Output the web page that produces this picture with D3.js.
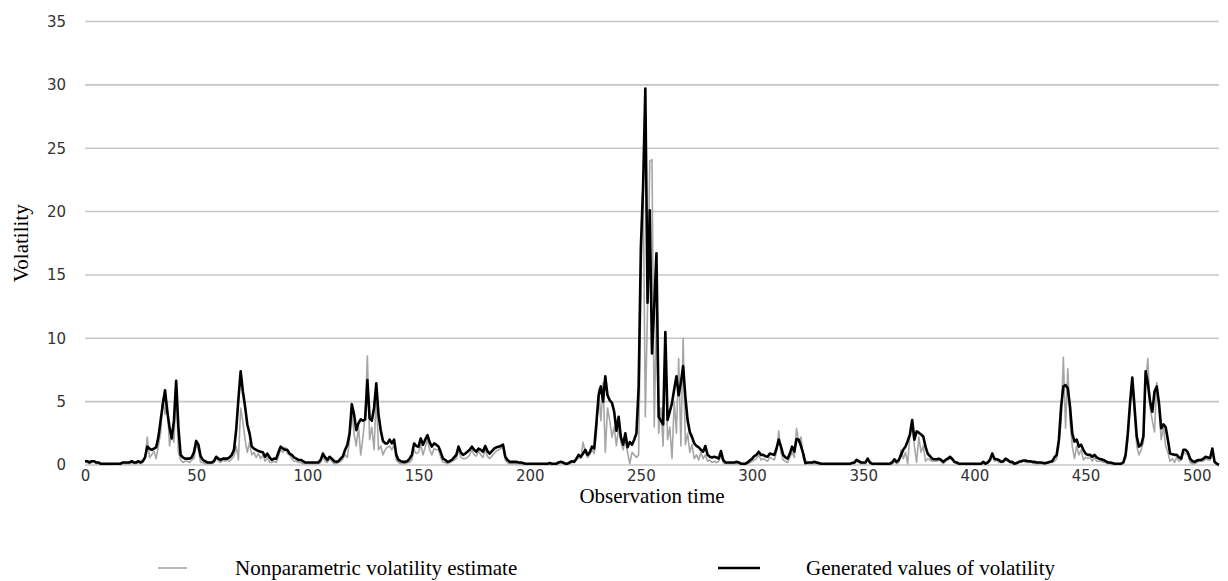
<!DOCTYPE html>
<html>
<head>
<meta charset="utf-8">
<script src="https://cdn.jsdelivr.net/npm/d3@7"></script>
<style>
  html, body { margin: 0; padding: 0; background: #fff; }
  svg { display: block; }
</style>
</head>
<body>
<script>
// values, one per observation (0 .. 510)
const generated = [
  0.3,0.3,0.2,0.3,0.3,0.2,0.2,0.1,0.1,0.1,
  0.1,0.1,0.1,0.1,0.1,0.1,0.1,0.2,0.2,0.2,0.2,
  0.3,0.2,0.2,0.3,0.2,0.3,0.6,1.45,1.3,1.2,
  1.3,1.4,2.2,3.5,4.8,5.9,4.2,3.0,2.1,3.5,
  6.65,3.0,0.8,0.6,0.5,0.5,0.5,0.6,1.0,1.9,
  1.6,0.7,0.4,0.3,0.2,0.2,0.2,0.3,0.65,0.5,
  0.4,0.5,0.5,0.5,0.6,0.8,1.2,2.8,5.2,7.4,
  5.8,4.6,3.2,2.5,1.45,1.3,1.2,1.1,1.05,1.0,
  0.65,0.9,0.6,0.4,0.5,0.5,1.0,1.45,1.3,1.2,
  1.2,0.9,0.8,0.6,0.5,0.4,0.4,0.3,0.2,0.2,0.2,
  0.2,0.2,0.2,0.2,0.4,0.9,0.6,0.4,0.65,0.5,
  0.3,0.25,0.3,0.5,0.7,1.2,1.6,2.5,4.8,4.0,
  2.75,3.3,3.6,3.5,3.6,6.7,3.7,3.5,4.5,6.45,
  4.0,2.75,1.9,1.7,1.7,2.0,1.7,2.0,0.8,0.4,
  0.3,0.25,0.25,0.3,0.5,0.8,1.7,1.5,1.45,2.1,
  1.6,2.0,2.35,1.8,1.45,1.7,1.6,1.45,1.0,0.5,
  0.4,0.25,0.3,0.4,0.6,0.8,1.45,1.0,0.8,0.9,
  1.05,1.2,1.45,1.2,1.05,1.3,1.2,1.05,1.5,1.1,
  0.9,1.1,1.3,1.4,1.45,1.5,1.6,0.65,0.4,0.25,
  0.25,0.25,0.25,0.2,0.2,0.15,0.1,0.1,0.1,0.1,0.1,
  0.1,0.1,0.1,0.1,0.1,0.1,0.15,0.1,0.1,0.1,
  0.2,0.25,0.2,0.1,0.1,0.2,0.3,0.25,0.5,0.8,
  0.65,0.9,1.2,0.8,1.0,1.45,1.3,3.3,5.5,6.2,
  5.0,7.0,5.5,5.1,4.9,4.2,2.7,3.8,2.2,1.6,
  2.5,1.4,1.8,1.6,2.0,2.5,6.2,17.2,22.0,29.7,
  12.8,20.1,8.8,12.5,16.7,3.8,3.5,3.2,10.5,3.55,
  4.2,4.9,6.0,7.0,5.5,6.5,7.8,5.4,3.55,2.6,
  2.2,1.7,1.5,1.4,1.2,1.05,1.5,0.8,0.65,0.6,
  0.65,0.6,0.5,1.1,0.4,0.2,0.2,0.2,0.2,0.2,
  0.25,0.2,0.1,0.1,0.1,0.2,0.35,0.5,0.7,0.8,
  1.05,0.8,0.8,0.7,0.65,0.9,0.85,0.8,1.3,2.0,
  1.45,0.8,0.6,0.5,0.9,1.45,1.05,2.05,2.0,1.5,
  0.9,0.15,0.2,0.2,0.2,0.25,0.2,0.15,0.1,0.1,
  0.1,0.1,0.1,0.1,0.1,0.1,0.1,0.1,0.1,0.1,0.1,
  0.1,0.15,0.2,0.4,0.3,0.2,0.2,0.2,0.5,0.2,
  0.1,0.1,0.1,0.1,0.1,0.1,0.1,0.1,0.1,0.2,
  0.45,0.25,0.4,0.8,1.2,1.45,1.9,2.4,3.55,2.0,
  2.65,2.55,2.4,2.25,1.45,0.9,0.7,0.5,0.45,0.45,
  0.5,0.4,0.25,0.4,0.5,0.65,0.5,0.25,0.2,0.1,
  0.1,0.1,0.1,0.1,0.1,0.1,0.1,0.1,0.1,0.1,0.25,
  0.1,0.2,0.4,0.9,0.5,0.45,0.4,0.25,0.3,0.5,
  0.4,0.25,0.25,0.1,0.15,0.25,0.3,0.35,0.35,0.3,
  0.3,0.25,0.25,0.2,0.2,0.2,0.15,0.15,0.2,0.25,
  0.3,0.6,0.8,2.0,4.6,6.2,6.3,6.05,4.6,2.5,
  1.85,2.0,1.45,1.6,1.2,0.9,0.8,0.8,0.65,0.8,
  0.6,0.5,0.45,0.4,0.3,0.2,0.2,0.15,0.1,0.1,0.1,
  0.1,0.2,0.8,2.5,4.9,6.9,4.6,2.25,1.45,1.6,
  2.25,7.4,6.45,5.0,4.2,5.8,6.2,4.9,2.9,3.2,
  3.0,2.0,0.9,0.85,0.8,0.8,0.6,0.5,1.2,1.2,
  1.0,0.5,0.3,0.25,0.35,0.4,0.4,0.5,0.65,0.6,
  0.55,1.3,0.25,0.1,0.0
];

const nonparametric = [
  0.2,0.2,0.1,0.2,0.3,0.1,0.1,0.05,0.05,0.05,
  0.05,0.05,0.05,0.05,0.1,0.05,0.05,0.1,0.1,0.1,0.1,
  0.2,0.1,0.1,0.2,0.1,0.2,0.5,2.2,0.6,0.8,
  1.1,0.5,1.5,2.5,5.3,4.0,5.0,1.5,2.5,1.8,
  6.0,1.0,0.4,0.2,0.3,0.3,0.2,0.4,0.5,1.6,
  1.2,0.2,0.2,0.1,0.1,0.1,0.1,0.2,0.5,0.3,
  0.2,0.4,0.3,0.4,0.3,0.5,0.7,1.5,0.4,4.5,
  3.4,2.0,1.0,1.8,0.8,1.0,0.6,0.9,0.5,0.8,
  0.3,0.6,0.2,0.2,0.3,0.2,0.7,1.2,1.0,1.4,
  0.9,0.8,0.5,0.3,0.3,0.2,0.2,0.1,0.1,0.1,0.1,
  0.1,0.1,0.1,0.1,0.2,0.7,0.3,0.2,0.5,0.3,
  0.1,0.1,0.2,0.3,0.5,0.8,0.6,2.0,4.2,2.5,
  1.5,3.0,0.8,2.2,4.0,8.6,2.0,3.0,1.2,5.5,
  1.2,1.5,0.8,1.2,1.4,1.5,1.2,1.6,0.4,0.2,
  0.1,0.1,0.1,0.2,0.2,0.4,1.2,0.9,1.0,1.6,
  0.8,1.4,2.0,1.2,0.8,1.3,1.2,1.2,0.6,0.2,
  0.2,0.1,0.2,0.3,0.4,0.5,1.2,0.6,0.5,0.5,
  0.6,0.8,1.2,0.8,0.7,1.1,0.8,0.6,1.2,0.7,
  0.5,0.7,0.9,1.1,1.2,1.3,1.6,0.4,0.2,0.1,
  0.1,0.1,0.1,0.1,0.05,0.05,0.05,0.05,0.05,0.05,0.05,
  0.05,0.05,0.05,0.05,0.05,0.05,0.05,0.05,0.05,0.05,
  0.1,0.2,0.1,0.05,0.05,0.1,0.2,0.2,0.4,0.6,
  0.5,1.8,1.0,0.6,0.8,1.2,0.9,2.5,6.0,3.5,
  6.5,1.0,4.5,3.5,2.2,3.0,1.5,3.0,1.8,1.2,
  2.0,1.0,0.1,1.0,0.8,0.6,0.8,14.0,23.0,3.8,
  12.5,24.0,24.1,3.0,12.0,2.5,4.5,1.5,9.0,2.0,
  3.0,0.5,5.0,2.5,8.4,1.5,10.0,1.6,2.5,1.0,
  1.6,0.5,0.8,0.4,1.0,0.5,0.8,0.3,0.4,0.2,
  0.3,0.2,0.3,0.8,0.2,0.1,0.1,0.1,0.1,0.1,
  0.1,0.1,0.05,0.05,0.05,0.1,0.2,0.3,0.4,0.5,
  0.8,0.4,0.5,0.4,0.3,0.6,0.5,0.4,1.0,2.7,
  1.0,0.4,0.3,0.2,0.6,1.0,0.6,2.9,1.8,2.2,
  0.6,0.1,0.1,0.1,0.1,0.1,0.1,0.05,0.05,0.05,
  0.05,0.05,0.05,0.05,0.05,0.05,0.05,0.05,0.05,0.05,0.05,
  0.05,0.1,0.1,0.3,0.2,0.1,0.1,0.1,0.4,0.1,
  0.05,0.05,0.05,0.05,0.05,0.05,0.05,0.05,0.05,0.05,
  0.3,0.1,0.2,1.2,0.5,1.0,0.1,2.5,3.2,1.5,
  0.2,2.2,1.0,1.5,0.3,0.5,0.4,0.3,0.3,0.3,
  0.4,0.3,0.1,0.3,0.4,0.5,0.4,0.2,0.1,0.05,
  0.05,0.05,0.05,0.05,0.05,0.05,0.05,0.05,0.05,0.05,0.1,
  0.05,0.1,0.3,0.9,0.3,0.4,0.2,0.2,0.2,0.4,
  0.3,0.2,0.1,0.05,0.1,0.2,0.2,0.3,0.2,0.2,
  0.2,0.2,0.1,0.1,0.1,0.1,0.1,0.1,0.1,0.2,
  0.2,0.3,0.5,1.5,3.5,8.5,2.9,7.6,3.5,1.5,
  0.5,1.5,0.8,1.2,0.4,0.6,0.5,0.6,0.3,0.6,
  0.3,0.3,0.3,0.2,0.2,0.1,0.1,0.05,0.05,0.05,0.05,
  0.05,0.2,0.5,2.0,4.5,6.5,4.0,1.5,0.8,1.2,
  1.8,6.5,8.4,4.5,3.5,2.6,6.5,4.5,2.0,3.0,
  1.5,1.0,0.3,0.5,0.2,0.6,0.3,0.4,1.0,0.9,
  0.8,0.2,0.1,0.1,0.2,0.3,0.3,0.3,0.5,0.4,
  0.4,1.0,0.2,0.05,0.0
];

const xTicks = [0, 50, 100, 150, 200, 250, 300, 350, 400, 450, 500];
const yTicks = [0, 5, 10, 15, 20, 25, 30, 35];
const seriesNames = ["Nonparametric volatility estimate", "Generated values of volatility"];

const width = 1228, height = 581;
const margin = {top: 21.5, right: 9, bottom: 116, left: 85};

const svg = d3.select("body").append("svg")
    .attr("width", width)
    .attr("height", height);

const x = d3.scaleLinear()
    .domain([0, generated.length - 1])
    .range([margin.left, width - margin.right]);

const y = d3.scaleLinear()
    .domain([0, 35])
    .range([height - margin.bottom, margin.top]);

// gridlines
svg.append("g")
    .selectAll("line")
    .data(yTicks)
    .join("line")
    .attr("x1", margin.left)
    .attr("x2", width - margin.right)
    .attr("y1", d => y(d))
    .attr("y2", d => y(d))
    .attr("stroke", "#c6c6c6")
    .attr("stroke-width", 1.6);

// y axis labels
const yAxis = svg.append("g")
    .attr("transform", `translate(${margin.left - 19},0)`)
    .call(d3.axisLeft(y).tickValues(yTicks).tickSize(0).tickPadding(0));
yAxis.select(".domain").remove();
yAxis.selectAll("text")
    .attr("font-family", "'DejaVu Sans', Verdana, sans-serif")
    .attr("font-size", 15)
    .attr("fill", "#333");

// x axis labels
const xAxis = svg.append("g")
    .attr("transform", `translate(0,${y(0) + 5})`)
    .call(d3.axisBottom(x).tickValues(xTicks).tickSize(0).tickPadding(0));
xAxis.select(".domain").remove();
xAxis.selectAll("text")
    .attr("font-family", "'DejaVu Sans', Verdana, sans-serif")
    .attr("font-size", 15)
    .attr("fill", "#333");

const line = d3.line()
    .x((d, i) => x(i))
    .y(d => y(d));

svg.append("path")
    .datum(nonparametric)
    .attr("fill", "none")
    .attr("stroke", "#a6a6a6")
    .attr("stroke-width", 1.6)
    .attr("stroke-linejoin", "round")
    .attr("d", line);

svg.append("path")
    .datum(generated)
    .attr("fill", "none")
    .attr("stroke", "#000")
    .attr("stroke-width", 2.6)
    .attr("stroke-linejoin", "round")
    .attr("d", line);

// axis titles
svg.append("text")
    .attr("x", (margin.left + width - margin.right) / 2)
    .attr("y", 503)
    .attr("text-anchor", "middle")
    .attr("font-family", "'Liberation Serif', 'Times New Roman', serif")
    .attr("font-size", 21)
    .attr("fill", "#000")
    .text("Observation time");

svg.append("text")
    .attr("transform", `translate(28,${(y(0) + y(35)) / 2}) rotate(-90)`)
    .attr("text-anchor", "middle")
    .attr("font-family", "'Liberation Serif', 'Times New Roman', serif")
    .attr("font-size", 21)
    .attr("fill", "#000")
    .text("Volatility");

// legend
const legendItems = [
  {name: seriesNames[0], color: "#a6a6a6", w: 1.6, x1: 158, x2: 187, tx: 235},
  {name: seriesNames[1], color: "#000", w: 2.6, x1: 718, x2: 760, tx: 806}
];
const legend = svg.append("g").attr("transform", "translate(0,568)");
const li = legend.selectAll("g").data(legendItems).join("g");
li.append("line")
    .attr("x1", d => d.x1)
    .attr("x2", d => d.x2)
    .attr("stroke", d => d.color)
    .attr("stroke-width", d => d.w);
li.append("text")
    .attr("x", d => d.tx)
    .attr("y", 7)
    .attr("font-family", "'Liberation Serif', 'Times New Roman', serif")
    .attr("font-size", 21)
    .attr("fill", "#000")
    .text(d => d.name);
</script>
</body>
</html>
